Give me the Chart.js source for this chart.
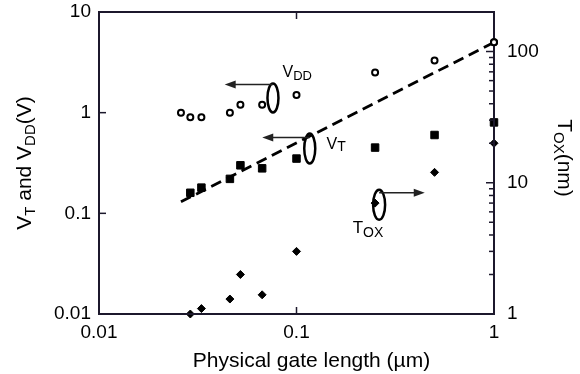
<!DOCTYPE html>
<html><head><meta charset="utf-8">
<script src="https://cdn.jsdelivr.net/npm/chart.js@4/dist/chart.umd.min.js"></script>
<style>html,body{margin:0;padding:0;background:#fff;}</style>
</head><body>
<canvas id="c" width="580" height="374"></canvas>
<script>
const FONT = '"Liberation Sans", Arial, Helvetica, sans-serif';

// Physical gate length (µm)
const vddLength = [0.026, 0.029, 0.033, 0.046, 0.052, 0.067, 0.1, 0.25, 0.5, 1];
const devLength = [0.029, 0.033, 0.046, 0.052, 0.067, 0.1, 0.25, 0.5, 1];
// Supply voltage V_DD (V), left axis
const vddValues = [1.0, 0.9, 0.9, 1.0, 1.2, 1.2, 1.5, 2.5, 3.3, 5.0];
// Threshold voltage V_T (V), left axis
const vtValues = [0.16, 0.18, 0.22, 0.30, 0.28, 0.35, 0.45, 0.60, 0.80];
// Oxide thickness T_OX (nm), right axis
const toxValues = [1.0, 1.1, 1.3, 2.0, 1.4, 3.0, 7.0, 12, 20];
// Dashed trend line (left axis)
const trendLength = [0.026, 1];
const trendValues = [0.13, 5];
// Tick labels
const xTickValues = [0.01, 0.1, 1];
const leftTickValues = [0.01, 0.1, 1, 10];
const rightTickValues = [1, 10, 100];

const pts = (xs, ys) => xs.map((v, i) => ({x: v, y: ys[i]}));
const AXIS_COLOR = 'rgb(28,24,44)';

function rich(ctx, parts, x, y, align, mainSize, subSize, drop) {
  let w = 0;
  const ws = parts.map(([t, s]) => { ctx.font = (s ? subSize : mainSize) + 'px ' + FONT; const m = ctx.measureText(t).width; w += m; return m; });
  let cx = align === 'center' ? x - w / 2 : x;
  ctx.textAlign = 'left'; ctx.textBaseline = 'alphabetic';
  parts.forEach(([t, s], i) => { ctx.font = (s ? subSize : mainSize) + 'px ' + FONT; ctx.fillText(t, cx, y + (s ? drop : 0)); cx += ws[i]; });
}

function seg(ctx, x1, y1, x2, y2) { ctx.beginPath(); ctx.moveTo(x1, y1); ctx.lineTo(x2, y2); ctx.stroke(); }

const decor = {
  id: 'decor',
  afterDraw(chart) {
    const ctx = chart.ctx, a = chart.chartArea;
    const sx = chart.scales.x, sy = chart.scales.y, sr = chart.scales.y2;
    ctx.save();
    ctx.setLineDash([]);
    ctx.strokeStyle = AXIS_COLOR;
    ctx.lineWidth = 2;
    ctx.strokeRect(a.left, a.top, a.right - a.left, a.bottom - a.top);
    ctx.lineWidth = 1.5;
    leftTickValues.forEach(v => { const p = sy.getPixelForValue(v); seg(ctx, a.left, p, a.left + 7, p); });
    xTickValues.forEach(v => { const p = sx.getPixelForValue(v); seg(ctx, p, a.bottom, p, a.bottom - 7); seg(ctx, p, a.top, p, a.top + 7); });
    for (let d = 1; d <= 100; d *= 10) {
      for (let m = 1; m < 10; m++) {
        const v = m * d; if (v > sr.max) break;
        const p = sr.getPixelForValue(v);
        seg(ctx, a.right, p, a.right - (m === 1 ? 8 : 5), p);
      }
    }
    // redraw the 5 V ring on top of the frame so its centre stays white
    const ring = chart.getDatasetMeta(1).data[vddValues.length - 1];
    if (ring) { ctx.fillStyle = '#fff'; ctx.strokeStyle = '#000'; ctx.lineWidth = 2; ctx.beginPath(); ctx.arc(ring.x, ring.y, 3, 0, Math.PI * 2); ctx.fill(); ctx.stroke(); }
    ctx.fillStyle = '#000';
    rich(ctx, [['Physical gate length (\u00b5m)', 0]], (a.left + a.right) / 2 + 15, 367, 'center', 21, 15, 0);
    ctx.save(); ctx.translate(31, (a.top + a.bottom) / 2); ctx.rotate(-Math.PI / 2);
    rich(ctx, [['V', 0], ['T', 1], [' and V', 0], ['DD', 1], ['(V)', 0]], 0, 0, 'center', 21, 15, 4);
    ctx.restore();
    ctx.save(); ctx.translate(558, (a.top + a.bottom) / 2 - 5); ctx.rotate(Math.PI / 2);
    rich(ctx, [['T', 0], ['OX', 1], ['(nm)', 0]], 0, 0, 'center', 21, 15, 4);
    ctx.restore();
    const P = (vx, vy, ax) => [sx.getPixelForValue(vx), (ax === 'y2' ? sr : sy).getPixelForValue(vy)];
    const notes = [
      {label: [['V', 0], ['DD', 1]], at: [0.085, 2.25, 'y'], size: 16, sub: 13, drop: 3,
       ell: [0.076, 1.40, 'y'], rx: 5.5, ry: 14.5, from: [0.076, 1.91, 'y'], to: [0.0433, 1.91, 'y']},
      {label: [['V', 0], ['T', 1]], at: [0.142, 0.44, 'y'], size: 16, sub: 14, drop: 2,
       ell: [0.1167, 0.44, 'y'], rx: 5.5, ry: 15, from: [0.1167, 0.566, 'y'], to: [0.0671, 0.566, 'y']},
      {label: [['T', 0], ['OX', 1]], at: [0.1926, 4.13, 'y2'], size: 17, sub: 14, drop: 4,
       ell: [0.262, 6.8, 'y2'], rx: 6, ry: 15, from: [0.262, 8.39, 'y2'], to: [0.446, 8.39, 'y2']}
    ];
    notes.forEach(n => {
      const [lx, ly] = P(...n.at);
      ctx.fillStyle = '#000';
      rich(ctx, n.label, lx, ly, 'left', n.size, n.sub, n.drop);
      const [ex, ey] = P(...n.ell);
      ctx.lineWidth = 2.5; ctx.strokeStyle = '#000';
      ctx.beginPath(); ctx.ellipse(ex, ey, n.rx, n.ry, 0, 0, Math.PI * 2); ctx.stroke();
      const [fx, fy] = P(...n.from), [tx, ty] = P(...n.to);
      const dir = Math.sign(tx - fx);
      ctx.lineWidth = 1.5; ctx.strokeStyle = '#222';
      seg(ctx, fx, fy, tx - dir * 8, ty);
      ctx.fillStyle = '#222';
      ctx.beginPath(); ctx.moveTo(tx, ty); ctx.lineTo(tx - dir * 11, ty - 4); ctx.lineTo(tx - dir * 11, ty + 4); ctx.closePath(); ctx.fill();
    });
    ctx.restore();
  }
};

const tickFont = {family: FONT, size: 19};
const edge = {display: true, color: AXIS_COLOR, width: 2};
const noPadV = s => { s.paddingTop = 0; s.paddingBottom = 0; };
new Chart(document.getElementById('c'), {
  type: 'scatter',
  data: {
    datasets: [
      {type: 'line', data: pts(trendLength, trendValues), yAxisID: 'y', borderColor: '#000', borderWidth: 2.8,
       borderDash: [11, 6], pointRadius: 0, fill: false, order: 10, clip: false},
      {data: pts(vddLength, vddValues), yAxisID: 'y', pointStyle: 'circle', pointRadius: 3, borderWidth: 2,
       borderColor: '#000', backgroundColor: '#fff', order: 1, clip: false},
      {data: pts(devLength, vtValues), yAxisID: 'y', pointStyle: 'rect', pointRadius: 5.3, borderWidth: 1,
       borderColor: '#000', backgroundColor: '#000', order: 1, clip: false},
      {data: pts(devLength, toxValues), yAxisID: 'y2', pointStyle: 'rectRot', pointRadius: 4, borderWidth: 1,
       borderColor: '#000', backgroundColor: '#000', order: 1, clip: false}
    ]
  },
  options: {
    responsive: false, animation: false, devicePixelRatio: 1,
    layout: {padding: {top: 12, left: 0, right: 0, bottom: 0}},
    plugins: {legend: {display: false}, tooltip: {enabled: false}},
    scales: {
      x: {type: 'logarithmic', position: 'bottom', min: 0.01, max: 1,
          grid: {display: false, drawTicks: false}, border: edge,
          afterBuildTicks: s => { s.ticks = xTickValues.map(v => ({value: v})); },
          afterFit: s => { s.height = 60; s.paddingLeft = 0; s.paddingRight = 0; },
          ticks: {autoSkip: false, maxRotation: 0, padding: 7, color: '#000', font: tickFont, callback: v => String(v)}},
      xTop: {type: 'logarithmic', position: 'top', min: 0.01, max: 1,
          grid: {display: false, drawTicks: false}, border: edge,
          ticks: {display: false},
          afterFit: s => { s.height = 0; s.paddingLeft = 0; s.paddingRight = 0; }},
      y: {type: 'logarithmic', position: 'left', min: 0.01, max: 10,
          grid: {display: false, drawTicks: false}, border: edge,
          afterBuildTicks: s => { s.ticks = leftTickValues.map(v => ({value: v})); },
          afterFit: s => { s.width = 99; noPadV(s); },
          ticks: {autoSkip: false, padding: 8, color: '#000', font: tickFont, callback: v => String(v)}},
      y2: {type: 'logarithmic', position: 'right', min: 1, max: 200,
          grid: {display: false, drawTicks: false}, border: edge,
          afterBuildTicks: s => { s.ticks = rightTickValues.map(v => ({value: v})); },
          afterFit: s => { s.width = 86; noPadV(s); },
          ticks: {autoSkip: false, padding: 13, color: '#000', font: tickFont, callback: v => String(v)}}
    }
  },
  plugins: [decor]
});
</script>
</body></html>
